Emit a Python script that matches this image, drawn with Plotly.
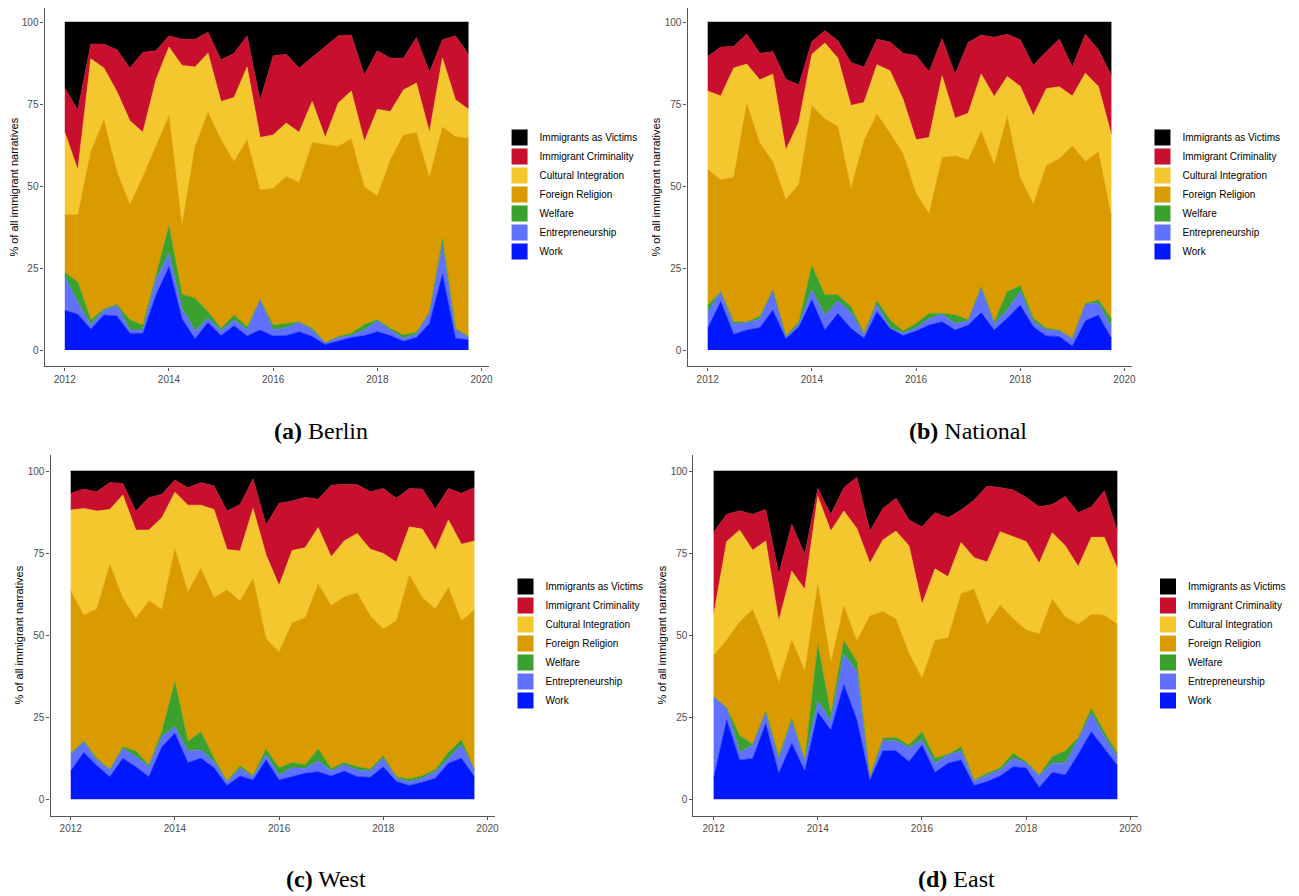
import plotly.graph_objects as go

# quarterly observations, 2012 Q1 .. 2019 Q4
quarters = [2012 + q / 4 for q in range(32)]

series_names = ["Work", "Entrepreneurship", "Welfare", "Foreign Religion",
                "Cultural Integration", "Immigrant Criminality", "Immigrants as Victims"]
series_colors = ["#0018FF", "#6070FF", "#3AA02E", "#DA9B00", "#F5C72E", "#C8102E", "#000000"]

# upper edge of each stacked layer (cumulative %)
total = [100] * 32

berlin_work = [12.1, 10.9, 6.4, 10.7, 10.4, 5.1, 5.1, 16.8, 25.4, 9.5, 3.4, 8.4, 4.4, 7.4, 4.3, 6.1,
               4.3, 4.4, 5.6, 4.1, 1.7, 2.7, 3.8, 4.4, 5.6, 4.4, 2.7, 3.8, 8.1, 23.1, 3.6, 3.1]
berlin_entre = [22.4, 14.5, 7.6, 12.1, 13.5, 6.1, 6.1, 21.4, 29.5, 12.7, 5.8, 9.7, 5.9, 9.2, 6.1, 15.3,
                6.1, 6.8, 8.4, 6.1, 2.3, 3.8, 4.4, 6.1, 8.9, 6.1, 3.6, 4.8, 11.5, 32.0, 6.1, 3.8]
berlin_welfare = [23.7, 20.7, 9.2, 12.5, 13.9, 9.2, 7.6, 22.4, 37.8, 17.0, 15.8, 11.7, 6.6, 10.7, 7.1, 15.3,
                  7.6, 8.1, 8.6, 6.6, 2.3, 4.1, 5.1, 7.8, 9.2, 6.6, 4.6, 5.4, 11.5, 33.9, 6.6, 4.1]
berlin_religion = [41.2, 41.2, 60.5, 70.2, 54.4, 44.3, 52.9, 62.1, 71.5, 38.1, 62.1, 72.5, 64.1, 57.5, 64.1, 48.8,
                   49.3, 52.9, 51.1, 63.3, 62.8, 62.1, 64.4, 49.8, 47.0, 58.0, 65.6, 66.3, 52.6, 68.0, 65.1, 64.6]
berlin_culture = [66.4, 54.9, 88.8, 86.0, 78.8, 69.9, 66.4, 82.4, 92.4, 86.8, 86.3, 90.5, 75.8, 77.0, 86.3, 64.8,
                  65.6, 69.2, 66.4, 75.8, 64.8, 75.3, 79.0, 63.6, 73.4, 72.7, 79.3, 81.4, 66.4, 89.0, 76.3, 73.4]
berlin_crime = [79.9, 73.2, 93.3, 93.3, 91.6, 86.0, 90.8, 91.3, 95.8, 94.8, 94.8, 96.9, 88.5, 90.5, 95.8, 76.1,
                89.7, 90.2, 86.0, 89.3, 92.6, 95.8, 96.1, 83.9, 91.3, 89.0, 89.0, 95.3, 84.7, 94.6, 95.8, 90.2]

national_work = [6.6, 14.8, 4.8, 6.1, 6.8, 12.2, 3.4, 7.1, 15.3, 6.1, 11.2, 6.6, 3.6, 11.7, 6.6, 4.4,
                 5.8, 7.6, 8.6, 6.1, 7.6, 11.4, 6.1, 9.7, 13.7, 7.1, 4.3, 4.1, 1.2, 8.9, 10.7, 3.6]
national_entre = [11.5, 17.8, 7.8, 8.4, 9.4, 18.3, 4.1, 7.8, 18.3, 10.5, 15.0, 11.4, 4.6, 13.9, 6.8, 5.1,
                  6.8, 9.5, 10.9, 8.1, 8.9, 18.8, 8.1, 12.2, 17.8, 8.6, 6.1, 5.8, 3.4, 14.0, 14.2, 7.1]
national_welfare = [13.7, 17.8, 8.6, 8.6, 10.2, 18.3, 4.4, 8.6, 25.7, 16.8, 16.8, 13.2, 5.1, 15.0, 9.2, 5.8,
                    8.1, 11.2, 11.2, 10.7, 9.2, 19.3, 8.6, 17.8, 19.6, 9.7, 6.6, 6.1, 3.6, 14.2, 15.3, 9.5]
national_religion = [55.1, 51.9, 52.7, 75.3, 63.1, 57.5, 45.8, 50.6, 74.6, 70.5, 68.2, 49.3, 63.8, 72.0, 66.1, 60.0,
                     47.8, 41.7, 58.7, 59.2, 58.0, 66.8, 56.5, 71.2, 52.4, 44.5, 56.3, 58.3, 62.3, 57.5, 60.5, 40.7]
national_culture = [79.0, 77.5, 86.0, 87.2, 82.4, 84.1, 61.0, 69.5, 90.2, 93.6, 89.0, 74.6, 75.5, 87.0, 85.2, 76.5,
                    64.1, 64.8, 83.6, 70.7, 72.2, 84.2, 77.3, 83.4, 80.4, 71.5, 79.7, 80.3, 77.5, 84.4, 80.4, 65.6]
national_crime = [89.5, 92.4, 92.6, 96.4, 90.5, 91.0, 82.6, 80.9, 94.1, 97.4, 94.3, 87.7, 86.3, 94.8, 93.9, 90.5,
                  89.8, 84.9, 94.9, 84.1, 93.8, 96.1, 95.4, 96.3, 94.6, 86.8, 91.0, 94.8, 86.3, 96.3, 91.6, 83.7]

west_work = [8.6, 14.3, 10.3, 6.9, 12.5, 9.9, 6.9, 16.0, 20.1, 11.2, 12.5, 9.6, 4.2, 7.1, 5.9, 12.0,
             5.9, 6.9, 7.9, 8.4, 7.1, 8.6, 6.9, 6.7, 9.9, 5.4, 4.2, 5.2, 6.4, 11.0, 12.5, 6.9]
west_entre = [13.7, 17.4, 12.0, 8.9, 15.5, 13.0, 9.9, 19.1, 22.1, 14.7, 15.0, 11.5, 5.2, 9.4, 6.9, 13.5,
              7.4, 9.6, 9.4, 11.7, 8.6, 10.5, 8.9, 8.6, 12.5, 6.4, 5.4, 6.4, 8.4, 12.5, 16.5, 8.9]
west_welfare = [14.0, 17.8, 12.5, 9.2, 16.0, 14.7, 10.5, 20.6, 35.8, 17.6, 20.6, 12.5, 5.6, 10.2, 7.2, 15.3,
                9.6, 11.2, 10.5, 15.3, 9.4, 11.2, 9.9, 9.2, 13.3, 6.9, 6.2, 7.2, 9.1, 14.3, 18.1, 9.2]
west_religion = [63.5, 56.1, 58.0, 71.6, 61.4, 55.1, 60.5, 57.9, 76.4, 63.2, 70.4, 61.4, 63.8, 60.4, 67.3, 49.0,
                 44.9, 53.8, 55.3, 65.6, 59.0, 61.7, 62.9, 55.9, 51.9, 54.4, 68.3, 61.5, 58.0, 64.5, 54.4, 57.7]
west_culture = [88.1, 88.6, 87.8, 88.3, 92.7, 82.0, 82.0, 85.8, 93.5, 89.6, 89.6, 88.3, 76.1, 75.6, 88.6, 74.4,
                65.1, 75.8, 76.6, 82.8, 73.9, 78.7, 81.0, 76.2, 74.9, 72.2, 83.0, 82.3, 75.9, 85.1, 77.7, 78.7]
west_crime = [93.2, 94.5, 93.7, 96.5, 96.2, 87.8, 91.9, 92.9, 97.3, 94.9, 96.5, 95.5, 87.8, 89.8, 97.6, 83.6,
              90.2, 90.9, 92.0, 91.4, 95.7, 96.0, 95.9, 93.7, 94.7, 91.7, 94.7, 94.5, 88.4, 94.7, 93.2, 95.0]

east_work = [6.4, 24.2, 12.0, 12.4, 23.1, 7.9, 17.1, 8.6, 26.5, 21.1, 35.0, 24.2, 5.9, 14.8, 14.8, 11.5,
             16.5, 8.2, 11.0, 12.0, 4.2, 5.4, 7.1, 9.9, 9.6, 3.6, 8.2, 7.4, 13.7, 20.6, 15.5, 10.3]
east_entre = [31.3, 27.7, 14.3, 16.5, 26.2, 12.2, 23.7, 11.5, 29.9, 23.9, 44.2, 38.9, 6.6, 17.8, 17.8, 15.7,
              18.1, 11.0, 13.5, 14.7, 5.6, 7.4, 8.9, 12.5, 11.0, 7.2, 11.0, 11.0, 18.1, 26.2, 19.1, 13.0]
east_welfare = [31.3, 27.9, 19.4, 16.8, 26.9, 13.2, 24.7, 12.0, 47.2, 25.9, 48.3, 41.9, 6.9, 18.6, 18.8, 16.5,
                20.6, 12.5, 13.7, 16.0, 5.9, 7.9, 9.6, 14.0, 11.5, 7.4, 13.0, 14.7, 18.8, 27.7, 20.6, 14.0]
east_religion = [43.8, 48.5, 54.1, 57.9, 48.0, 35.6, 48.5, 39.1, 65.8, 41.7, 58.9, 48.3, 55.9, 57.2, 54.9, 44.5,
                 36.9, 48.5, 49.2, 62.7, 64.0, 53.3, 59.2, 55.1, 51.6, 50.4, 61.0, 55.6, 53.3, 56.4, 56.1, 53.3]
east_culture = [56.1, 78.5, 82.0, 75.9, 78.7, 54.3, 69.5, 64.0, 92.2, 81.7, 87.8, 82.5, 71.9, 79.0, 81.7, 77.2,
                59.4, 70.2, 67.8, 78.2, 73.6, 72.3, 81.5, 80.0, 78.5, 71.9, 81.2, 77.2, 70.9, 79.8, 79.8, 70.4]
east_crime = [81.3, 86.8, 87.9, 86.8, 88.3, 68.6, 83.8, 74.6, 94.7, 86.8, 94.9, 98.1, 81.7, 88.6, 91.7, 85.1,
              83.0, 87.3, 85.8, 88.1, 91.2, 95.4, 95.0, 94.2, 92.0, 89.1, 89.8, 92.2, 87.3, 89.1, 94.0, 81.7]

panels = [
    ("<b>(a)</b> Berlin", [berlin_work, berlin_entre, berlin_welfare, berlin_religion, berlin_culture, berlin_crime, total]),
    ("<b>(b)</b> National", [national_work, national_entre, national_welfare, national_religion, national_culture, national_crime, total]),
    ("<b>(c)</b> West", [west_work, west_entre, west_welfare, west_religion, west_culture, west_crime, total]),
    ("<b>(d)</b> East", [east_work, east_entre, east_welfare, east_religion, east_culture, east_crime, total]),
]

# the page body adds an 8px margin, so the figure is shifted by that much
OFF = 8
W, H = 1299 - 2 * OFF, 896 - OFF


def px_x(v):
    return (v - OFF) / W


def px_y(v):
    return 1 - (v - OFF) / H


# panel boxes in window pixels: left, right, top, bottom, plus y range
boxes = [(45, 494, 8, 366.4, [-5, 104.3]), (695, 1144, 8, 366.4, [-5, 104.3]),
         (51, 500, 454.6, 815.7, [-5, 105]), (701, 1150, 454.6, 815.7, [-5, 105])]
legend_pos = [(505, 123), (1155, 123), (511, 572), (1161, 572)]
caption_pos = [(324, 431), (979, 431), (330, 879), (967, 879)]

fig = go.Figure()
layout = dict(width=W, height=H, margin=dict(l=0, r=0, t=0, b=0),
              plot_bgcolor="white", paper_bgcolor="white", annotations=[])

for k, (caption, edges) in enumerate(panels):
    n = "" if k == 0 else str(k + 1)
    xa, ya, lg = "x" + n, "y" + n, "legend" + n
    for j, (name, col, top) in enumerate(zip(series_names, series_colors, edges)):
        fig.add_trace(go.Scatter(
            x=quarters, y=top, mode="lines", name=name,
            line=dict(color=col, width=0.6),
            fill="tozeroy" if j == 0 else "tonexty", fillcolor=col,
            showlegend=False, xaxis=xa, yaxis=ya, hoverinfo="skip"))
    # legend keys, top to bottom
    for name, col in reversed(list(zip(series_names, series_colors))):
        fig.add_trace(go.Scatter(
            x=[None], y=[None], mode="markers", name=name,
            marker=dict(symbol="square", size=16, color=col),
            xaxis=xa, yaxis=ya, legend=lg))

    l, r, t, b, yr = boxes[k]
    axis_common = dict(showline=True, linecolor="#555555", linewidth=1.2, ticks="outside",
                       ticklen=3, tickcolor="#555555", showgrid=False, zeroline=False,
                       tickfont=dict(family="Liberation Sans", size=10, color="#4D4D4D"))
    layout["xaxis" + n] = dict(domain=[px_x(l), px_x(r)], range=[2011.6125, 2020.1375],
                               tickvals=[2012, 2014, 2016, 2018, 2020], anchor=ya, **axis_common)
    layout["yaxis" + n] = dict(domain=[px_y(b), px_y(t)], range=yr,
                               tickvals=[0, 25, 50, 75, 100], anchor=xa,
                               title=dict(text="% of all immigrant narratives", standoff=1,
                                          font=dict(family="Liberation Sans", size=11, color="black")),
                               **axis_common)
    lx, ly = legend_pos[k]
    layout[lg] = dict(x=px_x(lx), y=px_y(ly), xanchor="left", yanchor="top",
                      traceorder="normal",
                      font=dict(family="Liberation Sans", size=10, color="black"),
                      bgcolor="rgba(0,0,0,0)", tracegroupgap=0, itemsizing="trace")
    cx, cy = caption_pos[k]
    layout["annotations"].append(dict(
        text=caption, x=px_x(cx), y=px_y(cy), xref="paper", yref="paper",
        xanchor="center", yanchor="middle", showarrow=False,
        font=dict(family="Liberation Serif", size=24, color="black")))

fig.update_layout(**layout)
fig.write_html("out.html")
